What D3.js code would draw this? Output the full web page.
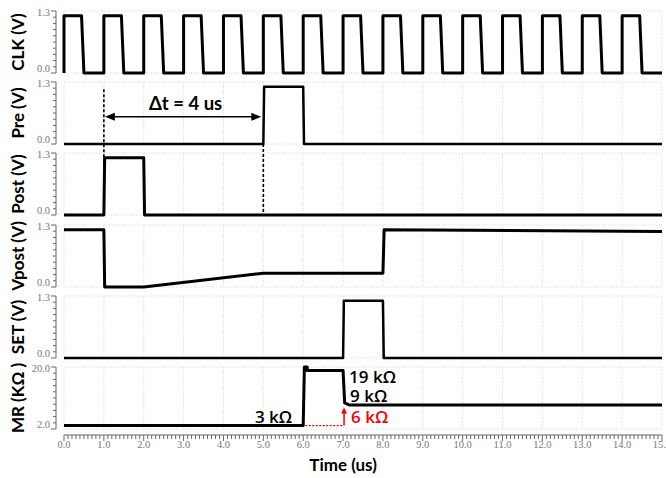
<!DOCTYPE html>
<html>
<head>
<meta charset="utf-8">
<script src="https://cdn.jsdelivr.net/npm/d3@7"></script>
<style>
  body { margin: 0; background: #fff; }
  .tick-label { font-family: "Liberation Serif", "DejaVu Serif", serif; font-size: 10.5px; fill: #777; }
  .panel-title { font-family: Lato, "Open Sans", sans-serif; font-weight: 700; font-size: 17px; fill: #000; }
  .ann { font-family: "Open Sans", Lato, sans-serif; font-weight: 600; font-size: 17px; }
</style>
</head>
<body>
<div id="chart"></div>
<script>
// time axis (us)
const timeTicks = [0,1,2,3,4,5,6,7,8,9,10,11,12,13,14,15];

// panels
const panelTitles = ["CLK (V)", "Pre (V)", "Post (V)", "Vpost (V)", "SET (V)", "MR (KΩ )"];
const panelMin = [0, 0, 0, 0, 0, 2];
const panelMax = [1.3, 1.3, 1.3, 1.3, 1.3, 20];
const panelTickLabels = [["0.0","1.3"],["0.0","1.3"],["0.0","1.3"],["0.0","1.3"],["0.0","1.3"],["2.0","20.0"]];

// CLK edges
const clkRise = [0,1,2,3,4,5,6,7,8,9,10,11,12,13,14];
const clkFall = [0.44,1.44,2.44,3.44,4.44,5.44,6.44,7.44,8.44,9.44,10.44,11.44,12.44,13.44,14.44];
const clkLow = [0.5,1.5,2.5,3.5,4.5,5.5,6.5,7.5,8.5,9.5,10.5,11.5,12.5,13.5,14.5];
const clkHigh = 1.2;

const preT = [0, 5, 5.02, 6, 6.02, 15];
const preV = [0, 0, 1.2, 1.2, 0, 0];
const postT = [0, 1, 1.02, 2, 2.02, 15];
const postV = [0, 0, 1.2, 1.2, 0, 0];
const vpostT = [0, 1, 1.02, 2, 5, 8, 8.03, 15];
const vpostV = [1.2, 1.2, 0, 0, 0.29, 0.29, 1.2, 1.165];
const setT = [0, 7, 7.02, 8, 8.02, 15];
const setV = [0, 0, 1.2, 1.2, 0, 0];
const mrT = [0, 6, 6.03, 6.1, 6.1, 7, 7.04, 7.15, 15];
const mrV = [3, 3, 20, 20, 19, 19, 9.6, 9, 9];

const width = 666, height = 478;
const left = 64, right = 662, top0 = 11, panelH = 62, step = 71.2;

const svg = d3.select("#chart").append("svg")
  .attr("width", width).attr("height", height);

const x = d3.scaleLinear().domain([0, 15]).range([left, right]);

// build clock points
let clkPts = [];
clkRise.forEach((r, i) => {
  clkPts.push([r, 0], [r, clkHigh], [clkFall[i], clkHigh], [clkLow[i], 0]);
});
clkPts.push([15, 0]);

const series = [
  clkPts,
  preT.map((t, i) => [t, preV[i]]),
  postT.map((t, i) => [t, postV[i]]),
  vpostT.map((t, i) => [t, vpostV[i]]),
  setT.map((t, i) => [t, setV[i]]),
  mrT.map((t, i) => [t, mrV[i]])
];
const strokeW = [3, 2.5, 3, 3, 2.5, 3];

const yScales = [];

panelTitles.forEach((title, i) => {
  const top = Math.round(top0 + i * step);
  const bottom = top + panelH;
  const y = d3.scaleLinear().domain([panelMin[i], panelMax[i]]).range([bottom, top]);
  yScales.push(y);
  const g = svg.append("g");

  // dotted frame and grid
  g.append("rect")
    .attr("x", left).attr("y", top)
    .attr("width", right - left).attr("height", panelH)
    .attr("fill", "none").attr("stroke", "#d8d8d8")
    .attr("stroke-width", 1).attr("stroke-dasharray", "1,1.5");
  g.selectAll(".grid").data(timeTicks.slice(1, -1)).join("line")
    .attr("x1", d => x(d)).attr("x2", d => x(d))
    .attr("y1", top).attr("y2", bottom)
    .attr("stroke", "#d8d8d8").attr("stroke-dasharray", "1,1.5");

  // y axis with minor ticks
  const axX = 56;
  g.append("line").attr("x1", axX).attr("x2", axX).attr("y1", top).attr("y2", bottom)
    .attr("stroke", "#666").attr("stroke-width", 1);
  const minor = d3.range(11).map(k => panelMin[i] + k * (panelMax[i] - panelMin[i]) / 10);
  g.selectAll(".yt").data(minor).join("line")
    .attr("x1", (d, k) => (k === 0 || k === 10) ? axX - 5 : axX - 3)
    .attr("x2", axX)
    .attr("y1", d => y(d)).attr("y2", d => y(d))
    .attr("stroke", "#666").attr("stroke-width", 1);
  g.append("text").attr("class", "tick-label")
    .attr("x", axX - 6).attr("y", y(panelMin[i]) - 1)
    .attr("text-anchor", "end").text(panelTickLabels[i][0]);
  g.append("text").attr("class", "tick-label")
    .attr("x", axX - 6).attr("y", y(panelMax[i]))
    .attr("text-anchor", "end").attr("dy", "0.45em").text(panelTickLabels[i][1]);

  // title
  g.append("text").attr("class", "panel-title")
    .attr("transform", `translate(24,${(top + bottom) / 2}) rotate(-90)`)
    .attr("text-anchor", "middle").text(title);

  // signal
  const line = d3.line().x(d => x(d[0])).y(d => y(d[1]));
  g.append("path").datum(series[i])
    .attr("d", line)
    .attr("fill", "none").attr("stroke", "#000")
    .attr("stroke-width", strokeW[i])
    .attr("stroke-linejoin", "round");
});

// x axis
const xAxisY = 435;
const xAxis = svg.append("g");
xAxis.append("line").attr("x1", left).attr("x2", right).attr("y1", xAxisY).attr("y2", xAxisY)
  .attr("stroke", "#666");
xAxis.selectAll(".xm").data(d3.range(0, 151)).join("line")
  .attr("x1", d => x(d / 10)).attr("x2", d => x(d / 10))
  .attr("y1", xAxisY).attr("y2", d => d % 10 === 0 ? xAxisY + 6 : xAxisY + 4)
  .attr("stroke", "#666").attr("stroke-width", 1);
xAxis.selectAll(".xl").data(timeTicks).join("text")
  .attr("class", "tick-label")
  .attr("x", d => x(d)).attr("y", 448)
  .attr("text-anchor", "middle")
  .text(d => d.toFixed(1));
svg.append("text").attr("class", "panel-title")
  .attr("x", x(7)).attr("y", 471)
  .attr("text-anchor", "middle").text("Time (us)");

// delta t annotation
const yPre = yScales[1], yPost = yScales[2], yMr = yScales[5];
const arrowY = yPre(0.57);
svg.append("line")
  .attr("x1", x(1)).attr("x2", x(1)).attr("y1", yPre(1.15)).attr("y2", yPost(0))
  .attr("stroke", "#000").attr("stroke-width", 1.6).attr("stroke-dasharray", "3,2");
svg.append("line")
  .attr("x1", x(5)).attr("x2", x(5)).attr("y1", yPre(0)).attr("y2", yPost(0))
  .attr("stroke", "#000").attr("stroke-width", 1.6).attr("stroke-dasharray", "3,2");
svg.append("line")
  .attr("x1", x(1) + 6).attr("x2", x(5) - 6).attr("y1", arrowY).attr("y2", arrowY)
  .attr("stroke", "#000").attr("stroke-width", 1.5);
svg.append("path")
  .attr("d", `M${x(1) + 1},${arrowY} l10,-4 l0,8 z`).attr("fill", "#000");
svg.append("path")
  .attr("d", `M${x(5) - 2},${arrowY} l-10,-4 l0,8 z`).attr("fill", "#000");
svg.append("text").attr("class", "panel-title")
  .style("font-size", "18.5px")
  .attr("x", x(3) + 2).attr("y", arrowY - 7)
  .attr("text-anchor", "middle").text("Δt = 4 us");

// MR annotations
svg.append("text").attr("class", "ann").attr("fill", "#000")
  .attr("x", x(7) + 6).attr("y", yMr(19) + 13).text("19 kΩ");
svg.append("text").attr("class", "ann").attr("fill", "#000")
  .attr("x", x(7) + 7).attr("y", yMr(9) - 3).text("9 kΩ");
svg.append("text").attr("class", "ann").attr("fill", "#000")
  .attr("x", x(6) - 11).attr("y", yMr(3) - 3)
  .attr("text-anchor", "end").text("3 kΩ");
svg.append("text").attr("class", "ann").attr("fill", "#ff0000")
  .attr("x", x(7) + 8).attr("y", yMr(3) - 3).text("6 kΩ");
svg.append("line")
  .attr("x1", x(6) + 2).attr("x2", x(7)).attr("y1", yMr(3)).attr("y2", yMr(3))
  .attr("stroke", "#ff0000").attr("stroke-width", 1.2).attr("stroke-dasharray", "2,1.5");
svg.append("line")
  .attr("x1", x(7) + 1).attr("x2", x(7) + 1).attr("y1", yMr(3)).attr("y2", yMr(3) - 14)
  .attr("stroke", "#ff0000").attr("stroke-width", 1.5);
svg.append("path")
  .attr("d", `M${x(7) + 1},${yMr(3) - 18} l-3,6 l6,0 z`).attr("fill", "#ff0000");
</script>
</body>
</html>
